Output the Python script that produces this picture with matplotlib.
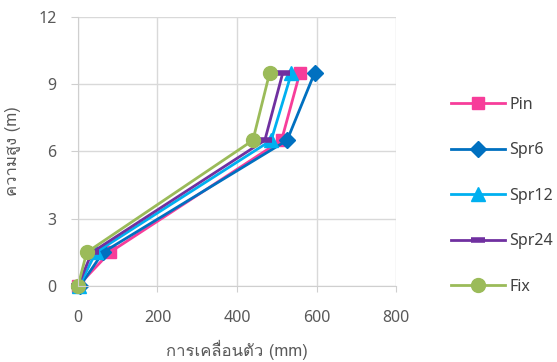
import matplotlib
matplotlib.use('Agg')
from matplotlib import pyplot as plt
from matplotlib import font_manager
from matplotlib.ft2font import FT2Font

# data
heights = [0, 1.5, 6.5, 9.5]
pin = [0, 80, 512, 558]
spr6 = [5, 63, 526, 595]
spr12 = [3, 45, 486, 537]
spr24 = [0, 35, 470, 515]
fix = [0, 22, 440, 482]

series_names = ['Pin', 'Spr6', 'Spr12', 'Spr24', 'Fix']
series_values = [pin, spr6, spr12, spr24, fix]
colors = ['#F73D9A', '#0070C0', '#00B0F0', '#7030A0', '#9BBB59']
markers = ['s', 'D', '^', '_', 'o']
marker_sizes = [9, 8, 10, 10, 10]

# find a font that has Thai glyphs
thai_font = None
for f in font_manager.fontManager.ttflist:
    try:
        if FT2Font(f.fname).get_char_index(ord('ก')) != 0:
            thai_font = f.name
            break
    except Exception:
        pass
families = [thai_font, 'DejaVu Sans'] if thai_font else ['DejaVu Sans']

plt.rcParams['font.family'] = ['Noto Sans', 'DejaVu Sans']

fig = plt.figure(figsize=(5.57, 3.62), dpi=100)
ax = fig.add_axes([0.14, 0.21, 0.571, 0.743])

for name, vals, c, m, ms in zip(series_names, series_values, colors, markers, marker_sizes):
    ax.plot(vals, heights, color=c, marker=m, markersize=ms, linewidth=2, clip_on=False,
            markeredgewidth=4 if m == '_' else 1, markeredgecolor=c, label=name)

ax.set_xlim(0, 800)
ax.set_ylim(0, 12)
ax.set_xticks([0, 200, 400, 600, 800])
ax.set_yticks([0, 3, 6, 9, 12])
ax.grid(True, color='#D9D9D9', linewidth=1)
ax.set_axisbelow(True)
for s in ['top', 'right']:
    ax.spines[s].set_visible(False)
for s in ['left', 'bottom']:
    ax.spines[s].set_color('#CFCFCF')
ax.tick_params(colors='#595959', labelsize=11.5)
ax.tick_params(axis='both', color='#CFCFCF')
ax.tick_params(axis='y', length=5, pad=10.5)
ax.tick_params(axis='x', length=4, pad=13)

ax.set_xlabel('การเคลื่อนตัว (mm)', family=families, fontsize=12, color='#595959')
ax.set_ylabel('ความสูง (m)', family=families, fontsize=12, color='#595959')
ax.xaxis.set_label_coords(0.5, -0.2)
ax.yaxis.set_label_coords(-0.18, 0.5)

ax.legend(loc='upper left', bbox_to_anchor=(1.153, 0.727), frameon=False,
          handlelength=3.4, labelspacing=1.85, handletextpad=0.25,
          fontsize=11.5, labelcolor='#404040', borderaxespad=0)

plt.savefig('out.png', dpi=100)
